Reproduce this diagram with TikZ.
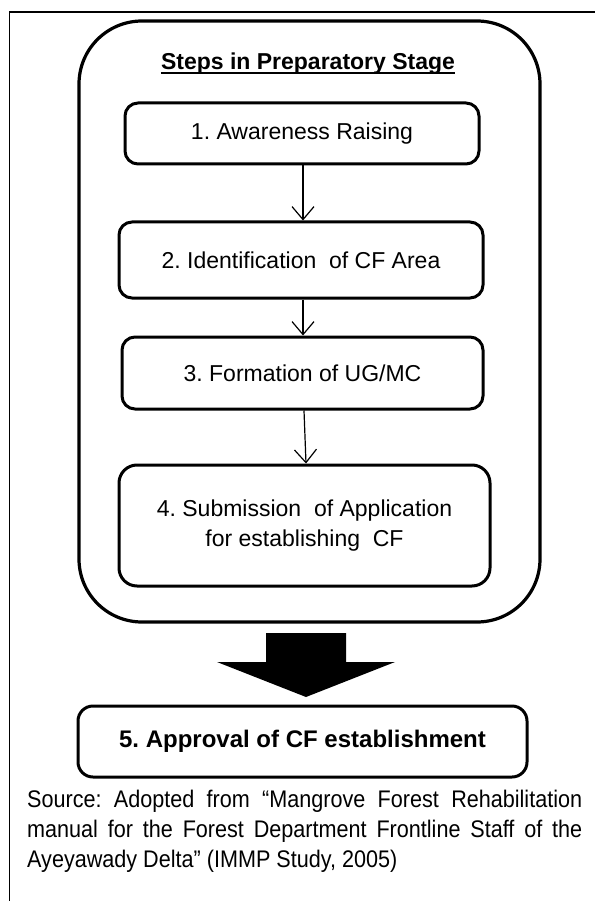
\documentclass[tikz,border=0pt]{standalone}
\usepackage{fontspec}
\setmainfont{Liberation Sans}
\newfontfamily\notefont[FakeStretch=0.9]{Liberation Sans}
\usetikzlibrary{arrows.meta}
\tikzset{
  stepbox/.style={draw, line width=3pt, rounded corners=13pt, inner sep=0pt,
    align=center, font=\frenchspacing\fontsize{23}{30}\selectfont},
  flow/.style={line width=1.2pt, -{Straight Barb[length=13pt,width=22pt]}},
}
\begin{document}
\begin{tikzpicture}[x=1pt,y=-1pt]
\useasboundingbox (0,0) rectangle (595,901);
% page frame (left and top rules)
\draw[line width=1.2pt] (9.5,901) -- (9.5,12) -- (595,12);
% container of the preparatory stage
\node[draw, line width=3.2pt, rounded corners=63pt, minimum width=461pt,
      minimum height=601pt, inner sep=0pt] (stage) at (309.5,321.5) {};
\node[font=\bfseries\fontsize{23}{28}\selectfont, anchor=base, inner sep=0pt]
  (title) at (308,70) {Steps in Preparatory Stage};
\draw[line width=1.6pt] ([yshift=-3pt]title.base west) -- ([yshift=-3pt]title.base east);
% steps
\node[stepbox, minimum width=354pt, minimum height=61pt] (b1) at (302,133.5)
  {1. Awareness Raising};
\node[stepbox, minimum width=364pt, minimum height=76pt] (b2) at (301,260)
  {2. Identification\ \ of CF Area};
\node[stepbox, minimum width=361pt, minimum height=72pt] (b3) at (302.5,373)
  {3. Formation of UG/MC};
\node[stepbox, rounded corners=18pt, minimum width=371pt, minimum height=121pt] (b4) at (304.5,525.5)
  {4. Submission\ \ of Application\\for establishing\ \ CF};
\node[stepbox, rounded corners=15pt, minimum width=449pt, minimum height=71pt,
      font=\frenchspacing\bfseries\fontsize{24}{30}\selectfont] (b5) at (302.5,741.5)
  {5. Approval of CF establishment};
% connectors
\draw[flow] ([xshift=1pt]b1.south) -- ([xshift=2pt]b2.north);
\draw[flow] ([xshift=2pt]b2.south) -- ([xshift=0.5pt]b3.north);
\draw[flow] ([xshift=1.5pt]b3.south) -- ([xshift=1.5pt]b4.north);
% block arrow from the stage to the approval
\fill (266,633) -- (346,633) -- (346,662) -- (395,662) -- (306,697)
      -- (217,662) -- (266,662) -- cycle;
% source note
\node[anchor=base west, text width=555pt, align=justify, inner sep=0pt,
      font=\notefont\frenchspacing\fontsize{24}{30}\selectfont] (src) at (27,807)
  {\hyphenpenalty=10000 Source: Adopted from “Mangrove Forest Rehabilitation manual for the Forest Department Frontline Staff of the Ayeyawady Delta” (IMMP Study, 2005)};
\end{tikzpicture}
\end{document}
